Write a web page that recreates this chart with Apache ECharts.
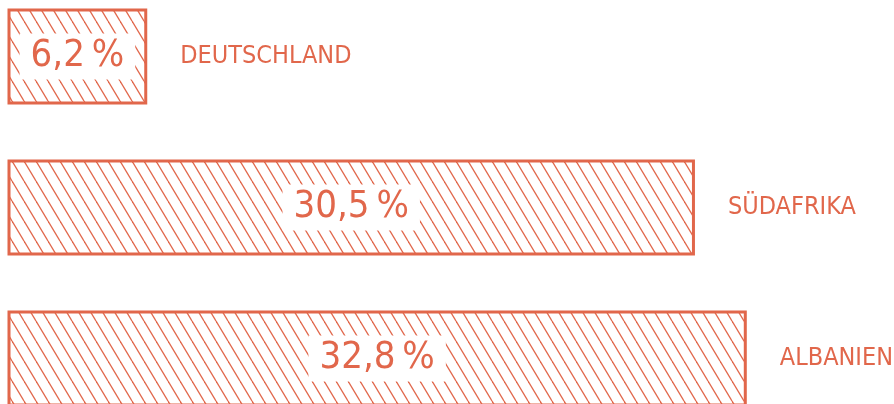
<!DOCTYPE html>
<html>
<head>
<meta charset="utf-8">
<style>
  html, body { margin: 0; padding: 0; background: #fff; overflow: hidden; }
  /* chart is taller than the window: the third bar runs off the bottom */
  #main { width: 894px; height: 453px; margin-top: -19.5px; }
</style>
<script src="https://cdn.jsdelivr.net/npm/echarts@6/dist/echarts.min.js"></script>
</head>
<body>
<div id="main"></div>
<script>
  var countries = ["DEUTSCHLAND", "SÜDAFRIKA", "ALBANIEN"];
  var shares = [6.2, 30.5, 32.8];

  var orange = "#e1674b";
  var font = "Liberation Sans Narrow, DejaVu Sans Condensed, sans-serif";

  // diagonal hatch tile
  var tile = document.createElement("canvas");
  tile.width = 12;
  tile.height = 20;
  var ctx = tile.getContext("2d");
  ctx.strokeStyle = orange;
  ctx.lineWidth = 1.3;
  [-12, 0, 12].forEach(function (dx) {
    ctx.beginPath();
    ctx.moveTo(dx, 0);
    ctx.lineTo(dx + 12, 20);
    ctx.stroke();
  });

  var chart = echarts.init(document.getElementById("main"));
  chart.setOption({
    animation: false,
    grid: { left: 7.5, right: 30, top: 0, bottom: 0 },
    xAxis: { type: "value", min: 0, max: 38, show: false },
    yAxis: {
      type: "category",
      data: countries,
      inverse: true,
      show: false
    },
    series: [
      {
        type: "bar",
        data: shares,
        barWidth: 96,
        itemStyle: {
          color: { image: tile, repeat: "repeat" },
          borderColor: orange,
          borderWidth: 3
        },
        label: {
          show: true,
          position: "inside",
          color: orange,
          fontFamily: font,
          fontSize: 38,
          backgroundColor: "#fff",
          padding: [4, 11, 4, 11],
          formatter: function (p) {
            return String(p.value).replace(".", ",") + "\u2009%";
          }
        }
      },
      {
        type: "bar",
        data: shares,
        barWidth: 96,
        barGap: "-100%",
        silent: true,
        itemStyle: { color: "rgba(0,0,0,0)" },
        label: {
          show: true,
          position: "right",
          distance: 33,
          color: orange,
          fontFamily: font,
          fontSize: 25,
          formatter: function (p) { return p.name; }
        }
      }
    ]
  });
</script>
</body>
</html>
